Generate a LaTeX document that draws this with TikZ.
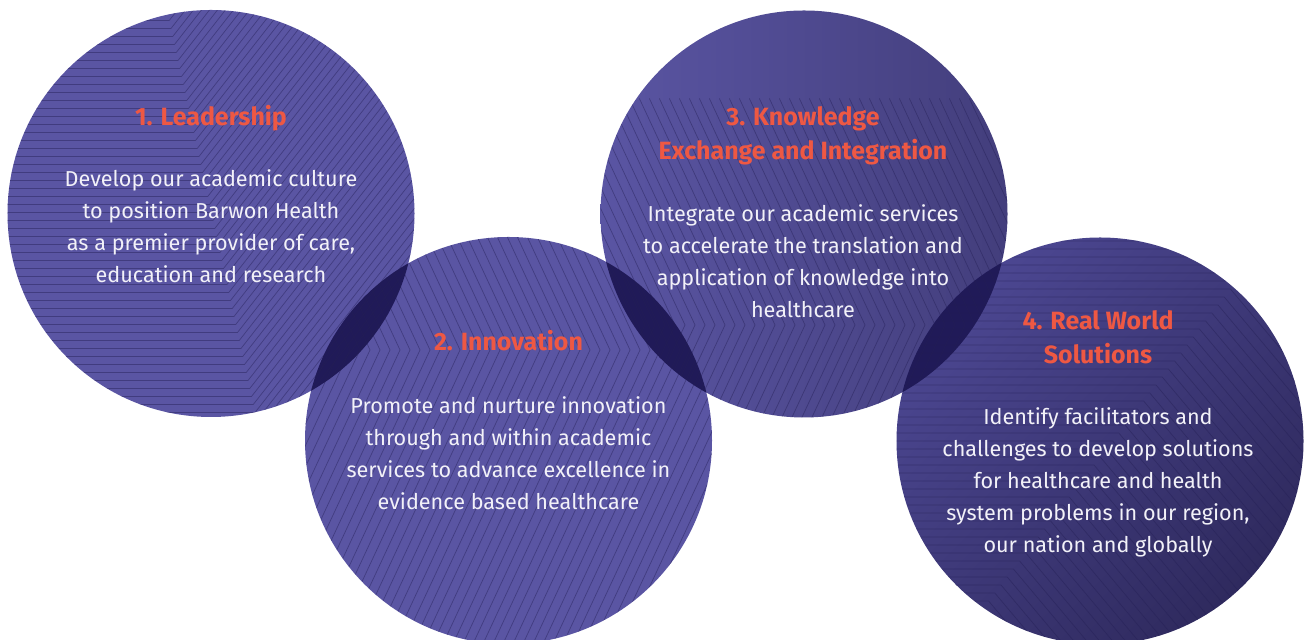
\documentclass[tikz,border=0pt]{standalone}
\usepackage{fontspec}
\setmainfont{Fira Sans}
\usetikzlibrary{positioning}

\definecolor{disc}{HTML}{5A55A3}
\definecolor{discdark}{HTML}{433E7C}
\definecolor{disclight}{HTML}{4C4792}
\definecolor{discdeep}{HTML}{2F2A5E}
\definecolor{lensblue}{HTML}{201A58}
\definecolor{hatchblue}{HTML}{241F55}
\definecolor{headred}{HTML}{EE5843}
\definecolor{blurbwhite}{HTML}{F2F1F8}

\tikzstyle{heading} = [
  text=headred,
  font=\bfseries\fontsize{14.2}{19.4}\selectfont,
  align=center
]
\tikzstyle{blurb} = [
  text=blurbwhite,
  font=\fontsize{12.3}{18.2}\selectfont,
  align=center
]
\tikzstyle{lens} = [fill=lensblue]
\tikzstyle{hatch} = [draw=hatchblue, line width=0.4pt, opacity=0.45]

\begin{document}
\begin{tikzpicture}

    \useasboundingbox (0,0) rectangle (26.1,12.8);
    \def\rad{4.07}

    \coordinate (lead) at (4.22,8.53);
    \coordinate (innov) at (10.17,3.99);
    \coordinate (know) at (16.08,8.52);
    \coordinate (real) at (22.0,3.98);

    % discs
    \fill[disc] (lead) circle (\rad);
    \fill[disc] (innov) circle (\rad);
    \shade[left color=disc, right color=discdark] (know) circle (\rad);
    \shade[left color=disclight, right color=discdeep, shading angle=45] (real) circle (\rad);

    % overlaps
    \begin{scope}
      \clip (lead) circle (\rad);
      \fill[lens] (innov) circle (\rad);
    \end{scope}
    \begin{scope}
      \clip (innov) circle (\rad);
      \fill[lens] (know) circle (\rad);
    \end{scope}
    \begin{scope}
      \clip (know) circle (\rad);
      \fill[lens] (real) circle (\rad);
    \end{scope}

    % line patterns
    \begin{scope}
      \clip (lead) circle (\rad);
      \foreach \k in {0,...,98}
        \draw[hatch] (3.35+0.035*\k, 12.55-0.16*\k) ++(-10,0) -- ++(10,0) -- ++(52:16);
    \end{scope}
    \begin{scope}
      \clip (innov) circle (\rad);
      \foreach \k in {0,...,60}
        \draw[hatch] (5.6+0.2*\k, 5.8) ++(115:5) -- ++(295:5) -- ++(245:8);
    \end{scope}
    \begin{scope}
      \clip (know) circle (\rad);
      \foreach \k in {0,...,60}
        \draw[hatch] (11.5+0.2*\k, 6.3) ++(115:5) -- ++(295:5) -- ++(245:8);
    \end{scope}
    \begin{scope}
      \clip (real) circle (\rad);
      \foreach \k in {0,...,56}
        \draw[hatch] (25.6-0.124*\k, 8.3-0.16*\k) ++(-10,0) -- ++(10,0) -- ++(-50:8);
    \end{scope}

    % texts
    \node[heading] (leadhead) at (4.22,10.44) {1. Leadership};
    \node[blurb] (leadtext) at (4.22,8.27) {Develop our academic culture\\to position Barwon Health\\as a premier provider of care,\\education and research};
    \node[heading] (innovhead) at (10.17,5.98) {2. Innovation};
    \node[blurb] (innovtext) at (10.17,3.74) {Promote and nurture innovation\\through and within academic\\services to advance excellence in\\evidence based healthcare};
    \node[heading] (knowhead) at (16.06,10.09) {3. Knowledge\\Exchange and Integration};
    \node[blurb] (knowtext) at (16.06,7.58) {Integrate our academic services\\to accelerate the translation and\\application of knowledge into\\healthcare};
    \node[heading] (realhead) at (21.96,6.05) {4. Real World\\Solutions};
    \node[blurb] (realtext) at (21.96,3.16) {Identify facilitators and\\challenges to develop solutions\\for healthcare and health\\system problems in our region,\\our nation and globally};

\end{tikzpicture}
\end{document}
